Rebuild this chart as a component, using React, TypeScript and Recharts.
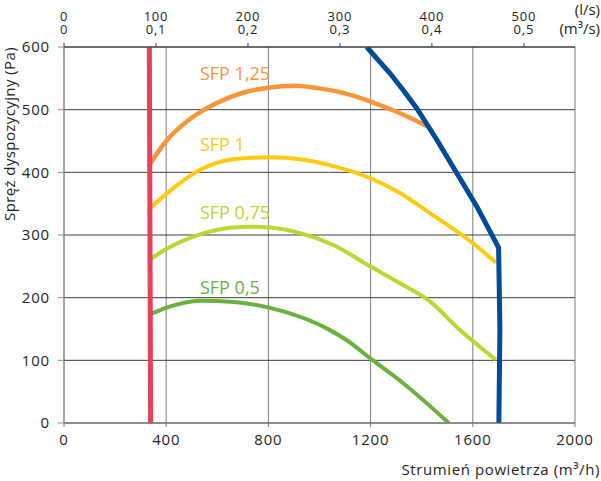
import React from 'react';
import { LineChart, Line, XAxis, YAxis, CartesianGrid, ReferenceDot } from 'recharts';

// Axis ticks
const xTicks = [0, 400, 800, 1200, 1600, 2000];
const yTicks = [0, 100, 200, 300, 400, 500, 600];
const topTicksLs = [0, 100, 200, 300, 400, 500];
const topTicksM3s = ['0', '0,1', '0,2', '0,3', '0,4', '0,5'];
const M3H_PER_LS = 3.6;

// Series: [airflow m3/h, pressure Pa]
const sfp125 = [[330, 409], [400, 450], [500, 487], [600, 511], [700, 527], [800, 535], [900, 538], [1000, 534], [1100, 526], [1200, 513], [1300, 497], [1420, 474]];
const sfp1 = [[330, 340], [402, 366], [533, 404], [663, 421], [806, 424], [924, 421], [1054, 410], [1198, 391], [1315, 367], [1432, 335], [1603, 286], [1690, 256]];
const sfp075 = [[340, 262], [402, 278], [533, 301], [663, 312], [741, 313], [806, 312], [924, 303], [1054, 284], [1198, 250], [1315, 223], [1432, 194], [1551, 148], [1690, 101]];
const sfp05 = [[340, 174], [402, 184], [533, 195], [663, 193], [728, 190], [859, 178], [1028, 151], [1107, 132], [1199, 103], [1329, 63], [1506, 0]];
const minLimit = [[334, 600], [339, 0]];
const maxLimit = [[1185, 600], [1230, 579], [1276, 558], [1328, 531], [1381, 502], [1459, 452], [1537, 399], [1615, 346], [1701, 280], [1706, 150], [1702, 0]];

const seriesLabels = ['SFP 1,25', 'SFP 1', 'SFP 0,75', 'SFP 0,5'];
const labelX = [532, 532, 532, 532];
const labelY = [558, 446, 336, 217];
const colors = ['#F7953A', '#FFC90C', '#BDD631', '#6BB140'];

const toPts = (arr: number[][]) => arr.map(([x, y]) => ({ x, y }));

const FONT = '"Open Sans", sans-serif';
const TXT = '#231F20';

const TopTick = (props: any) => {
  const { x, y, index } = props;
  return (
    <text x={x} y={y - 20} textAnchor="middle" fontSize={13} letterSpacing={0.8} fontFamily={FONT} fill={TXT}>
      <tspan x={x}>{topTicksLs[index]}</tspan>
      <tspan x={x} dy={13}>{topTicksM3s[index]}</tspan>
    </text>
  );
};

export default function App() {
  const curves = [sfp125, sfp1, sfp075, sfp05];
  return (
    <div style={{ position: 'absolute', left: 0, top: 0, width: 601, height: 481, background: '#fff' }}>
      <LineChart width={601} height={481} margin={{ top: 0, right: 26, bottom: 28, left: 0 }}>
        <CartesianGrid xAxisId="bottom" horizontal={false} vertical={true} stroke="#7d7d7d" strokeWidth={1} />
        <CartesianGrid xAxisId="bottom" horizontal={true} vertical={false} stroke="#3d3d3d" strokeWidth={1} />
        <XAxis
          xAxisId="bottom"
          dataKey="x"
          type="number"
          domain={[0, 2000]}
          ticks={xTicks}
          height={30}
          tickSize={4}
          tickMargin={7}
          stroke="#7d7d7d"
          tick={{ fontSize: 15, fontFamily: FONT, fill: TXT, letterSpacing: 0.8 }}
          allowDataOverflow
        />
        <XAxis
          xAxisId="top"
          orientation="top"
          dataKey="x"
          type="number"
          domain={[0, 2000]}
          ticks={topTicksLs.map((v) => v * M3H_PER_LS)}
          height={47}
          tickSize={4}
          tickMargin={2}
          stroke="#3d3d3d"
          tick={<TopTick />}
          allowDataOverflow
        />
        <YAxis
          type="number"
          domain={[0, 600]}
          ticks={yTicks}
          width={64}
          tickSize={6}
          tickMargin={8}
          stroke="#8a8a8a"
          tick={{ fontSize: 15, fontFamily: FONT, fill: TXT, letterSpacing: 0.8 }}
          allowDataOverflow
        />
        {curves.map((c, i) => (
          <Line
            key={seriesLabels[i]}
            xAxisId="bottom"
            data={toPts(c)}
            dataKey="y"
            type="monotone"
            stroke={colors[i]}
            strokeWidth={i === 0 ? 4.5 : 4}
            dot={false}
            isAnimationActive={false}
          />
        ))}
        <Line xAxisId="bottom" data={toPts(minLimit)} dataKey="y" type="linear" stroke="#E8405A" strokeWidth={5} dot={false} isAnimationActive={false} />
        <Line xAxisId="bottom" data={toPts(maxLimit)} dataKey="y" type="linear" stroke="#004C97" strokeWidth={5} dot={false} isAnimationActive={false} />
        {seriesLabels.map((s, i) => (
          <ReferenceDot
            key={'lbl' + s}
            xAxisId="bottom"
            x={labelX[i]}
            y={labelY[i]}
            r={0}
            fill="none"
            stroke="none"
            label={(p: any) => (
              <text
                x={p.viewBox.x}
                y={p.viewBox.y}
                dominantBaseline="central"
                textAnchor="start"
                fontSize={18}
                fontFamily={FONT}
                fill={colors[i]}
              >
                {s}
              </text>
            )}
          />
        ))}
      </LineChart>
      <svg width={601} height={481} style={{ position: 'absolute', left: 0, top: 0, pointerEvents: 'none' }}>
        <text transform="translate(15,134) rotate(-90)" textAnchor="middle" fontSize={15} letterSpacing={0.4} fontFamily={FONT} fill={TXT}>
          Spręż dyspozycyjny (Pa)
        </text>
        <text x={600} y={475} textAnchor="end" fontSize={15} letterSpacing={0.6} fontFamily={FONT} fill={TXT}>
          Strumień powietrza (m³/h)
        </text>
        <text x={600} y={15} textAnchor="end" fontSize={15} fontFamily={FONT} fill={TXT}>
          <tspan x={600}>(l/s)</tspan>
          <tspan x={600} dy={19}>(m³/s)</tspan>
        </text>
      </svg>
    </div>
  );
}
